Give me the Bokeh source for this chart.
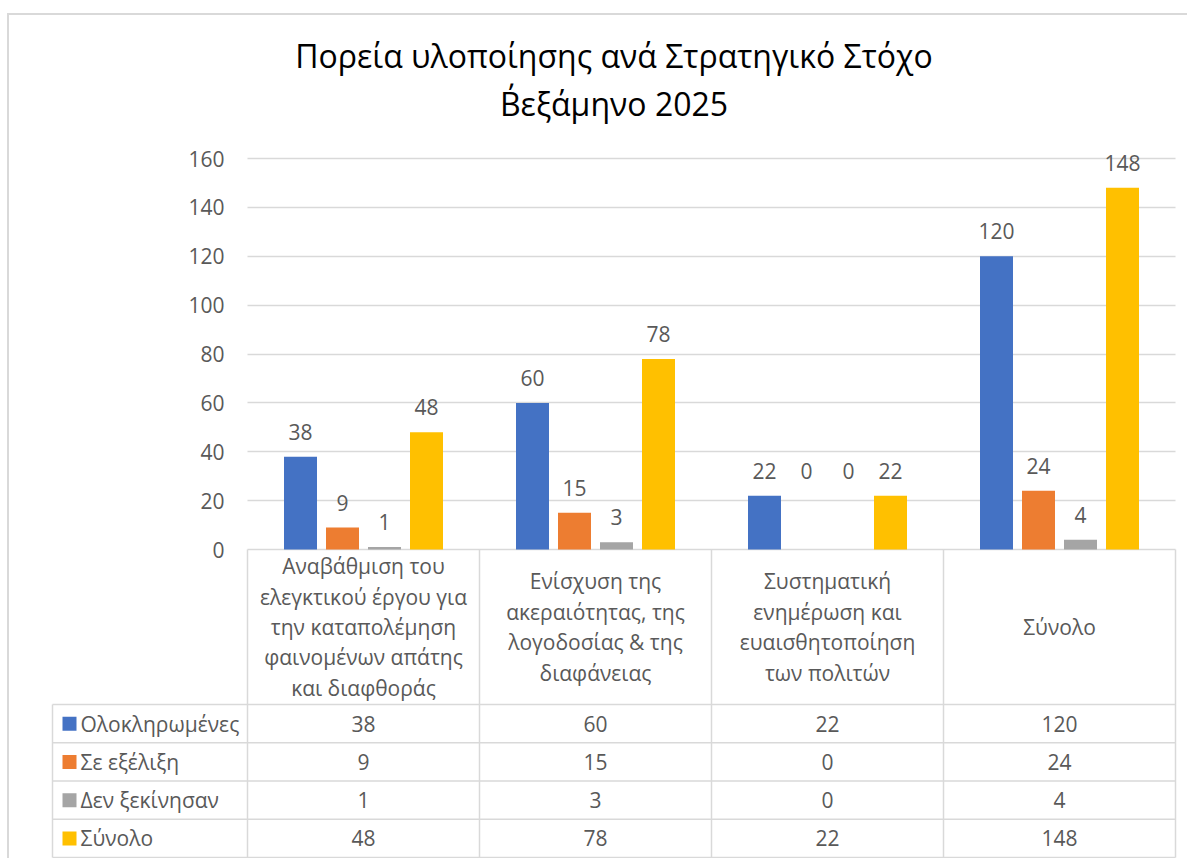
from bokeh.plotting import figure
from bokeh.models import Range1d, LinearAxis, FixedTicker, Title, Grid
from bokeh.core.properties import value
from bokeh.embed import file_html
from bokeh.resources import INLINE

# ---------------- data ----------------
categories = [
    "Αναβάθμιση του\nελεγκτικού έργου για\nτην καταπολέμηση\nφαινομένων απάτης\nκαι διαφθοράς",
    "Ενίσχυση της\nακεραιότητας, της\nλογοδοσίας & της\nδιαφάνειας",
    "Συστηματική\nενημέρωση και\nευαισθητοποίηση\nτων πολιτών",
    "Σύνολο",
]
series_names = ["Ολοκληρωμένες", "Σε εξέλιξη", "Δεν ξεκίνησαν", "Σύνολο"]
completed = [38, 60, 22, 120]
in_progress = [9, 15, 0, 24]
not_started = [1, 3, 0, 4]
total = [48, 78, 22, 148]
y_ticks = [0, 20, 40, 60, 80, 100, 120, 140, 160]
title_lines = ["Πορεία υλοποίησης ανά Στρατηγικό Στόχο", "Β΄εξάμηνο 2025"]

series = [completed, in_progress, not_started, total]
colors = ["#4472C4", "#ED7D31", "#A5A5A5", "#FFC000"]

# ---------------- style / layout ----------------
FONT = "Open Sans"
TXT = "#595959"
GRID = "#D9D9D9"
FS = "21px"

W, H = 1180, 845
FRAME_L, FRAME_R, FRAME_T = 40, 1169, 124
CAT_PX = 232.0
LEG_PX = 195.0
PAD_PX = 3.0
PXU = 391.0 / 160.0
ZERO_PX = 534
HEADER_PX = 155.0
ROW_PX = 38.25
BAR_W = 33.0 / CAT_PX
BAR_PITCH = 42.0 / CAT_PX

n = len(categories)
x0 = -LEG_PX / CAT_PX
x_start = x0 - PAD_PX / CAT_PX
x_end = n + PAD_PX / CAT_PX
y_end = (ZERO_PX - FRAME_T) / PXU
y_start = -(H - ZERO_PX) / PXU
header_h = HEADER_PX / PXU
row_h = ROW_PX / PXU
t_bottom = -(header_h + len(series) * row_h)

p = figure(width=W, height=H,
           x_range=Range1d(x_start, x_end), y_range=Range1d(y_start, y_end),
           x_axis_location=None, y_axis_location=None,
           toolbar_location=None, output_backend="svg",
           min_border_left=FRAME_L, min_border_right=W - FRAME_R,
           min_border_top=FRAME_T, min_border_bottom=0,
           outline_line_color=None, background_fill_color="white",
           border_fill_color="white")
p.xgrid.visible = False
p.ygrid.visible = False
p.margin = (13, 0, 0, 7)
p.styles = {"border-top": "2px solid #D9D9D9", "border-left": "2px solid #D9D9D9"}

# subtitle is added first (closest to the frame), main title above it
p.add_layout(Title(text=title_lines[1], align="center", vertical_align="bottom",
                   text_font=FONT, text_font_size="32px", text_font_style="normal",
                   text_color="#000000", standoff=30), "above")
p.add_layout(Title(text=title_lines[0], align="center", vertical_align="bottom",
                   text_font=FONT, text_font_size="32px", text_font_style="normal",
                   text_color="#000000", standoff=-24), "above")

p.add_layout(Grid(dimension=1, ticker=FixedTicker(ticks=y_ticks), bounds=(0, 160),
                  cross_bounds=(0, n), grid_line_color=GRID, grid_line_width=1.5))

yaxis = LinearAxis(ticker=FixedTicker(ticks=y_ticks), fixed_location=0,
                   axis_line_color=None, major_tick_line_color=None,
                   minor_tick_line_color=None, major_tick_out=0, major_tick_in=0,
                   major_label_standoff=23, major_label_text_font=FONT,
                   major_label_text_font_size=FS, major_label_text_color=TXT)
p.add_layout(yaxis, "left")

group_max = [max(s[i] for s in series) for i in range(n)]

for j, (vals, color) in enumerate(zip(series, colors)):
    off = (j - (len(series) - 1) / 2) * BAR_PITCH
    xs = [i + 0.5 + off for i in range(n)]
    p.vbar(x=xs, top=vals, bottom=0, width=BAR_W, fill_color=color, line_color=None)
    ly = [v if v > 0 else group_max[i] for i, v in enumerate(vals)]
    p.text(x=xs, y=ly, text=[str(v) for v in vals], text_align="center",
           text_baseline="alphabetic", y_offset=-25, text_font=value(FONT),
           text_font_size=FS, text_color=TXT)

# ---------------- data table ----------------
lx, ly_ = [], []
for i in range(n + 1):
    lx.append([i, i]); ly_.append([0, t_bottom])
lx.append([x0, x0]); ly_.append([-header_h, t_bottom])
for k in range(len(series) + 1):
    yy = -header_h - k * row_h
    lx.append([x0, n]); ly_.append([yy, yy])
p.multi_line(xs=lx, ys=ly_, line_color=GRID, line_width=1.5)

p.text(x=[i + 0.5 for i in range(n)], y=[-header_h / 2] * n, text=categories,
       text_align="center", text_baseline="middle", text_line_height=1.084,
       text_font=value(FONT), text_font_size=FS, text_color=TXT)

for k, (name, vals, color) in enumerate(zip(series_names, series, colors)):
    yc = -header_h - (k + 0.5) * row_h
    p.text(x=[i + 0.5 for i in range(n)], y=[yc] * n, text=[str(v) for v in vals],
           text_align="center", text_baseline="middle",
           text_font=value(FONT), text_font_size=FS, text_color=TXT)
    p.scatter(x=[x0 + 17 / CAT_PX], y=[yc], marker="square", size=14,
              fill_color=color, line_color=None)
    p.text(x=[x0 + 28 / CAT_PX], y=[yc], text=[name], text_align="left",
           text_baseline="middle", text_font=value(FONT), text_font_size=FS,
           text_color=TXT)

open("out.html", "w").write(file_html(p, INLINE))
